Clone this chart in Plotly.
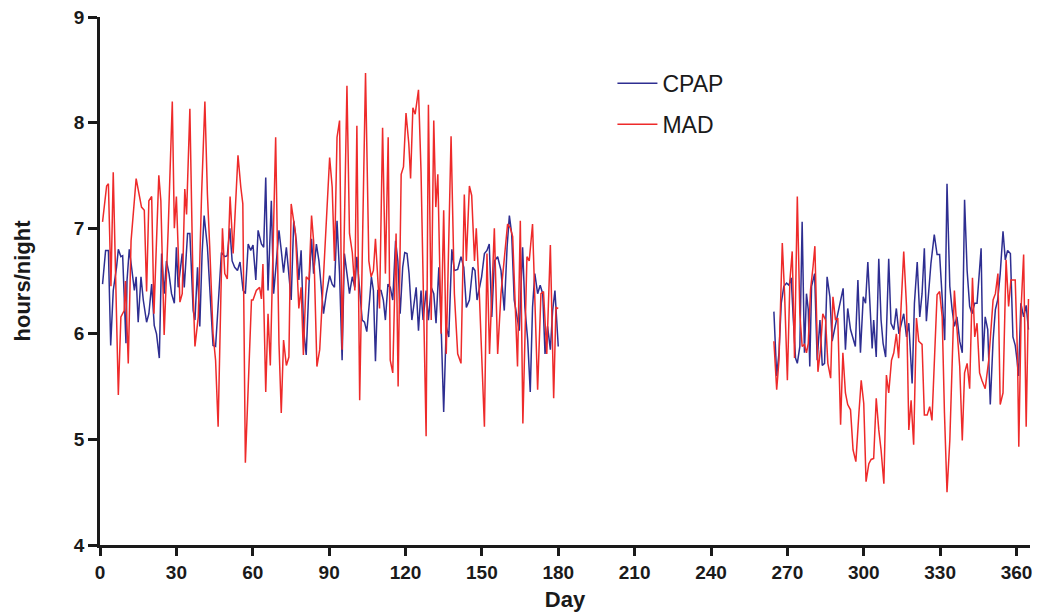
import plotly.graph_objects as go

# ---- data (day, hours/night) ----
cpap_days_1 = [1, 2.2, 3.3, 4.2, 5.2, 6.5, 7.2, 8.2, 8.9, 9.5, 10.2, 10.6, 11.5, 12.4, 13.5, 14.2, 15, 16.1, 17, 18.3,
               19.2, 20.3, 21.3, 22.2, 23.3, 24.2, 25.2, 26.1, 27.1, 28.1, 29.2, 30, 30.7, 32.3, 33.1, 34.4, 35.3, 36.6,
               37.3, 38.3, 39.2, 40.1, 40.9, 42.2, 43.1, 44.4, 45.4, 46.4, 47.7, 49, 50, 51, 51.9, 52.9, 54, 55, 56.2,
               57.1, 58.2, 59.2, 60.1, 61.2, 62.1, 63.4, 64.3, 65.1, 66, 67.3, 68.2, 69.3, 70.3, 71.2, 72.1, 73.2, 74.2,
               75.1, 76.1, 77.1, 78.1, 79, 80, 81, 82.1, 83.1, 83.9, 85, 86, 86.9, 87.8, 88.9, 90.2, 91.2, 92.1, 93.1,
               94.1, 95.1, 96, 97, 98, 99.1, 100.1, 100.9, 102, 103, 103.9, 104.8, 105.9, 106.6, 107.4, 108.2, 109.1,
               110.4, 111.3, 112.1, 113.1, 114, 115, 116.1, 117, 117.9, 118.9, 119.7, 120.6, 121.4, 122.5, 123.4, 124.2,
               125.1, 126.1, 126.9, 128.1, 129, 130.1, 131.1, 132, 133.1, 134, 135, 136, 137, 138.2, 139.2, 140.5, 141.8,
               142.9, 143.9, 145.1, 146.4, 147.3, 148.1, 149, 149.9, 151, 152, 152.9, 153.9, 154.9, 156.2, 157.5, 158.8,
               159.9, 160.8, 161.7, 162.7, 163.8, 164.7, 166, 166.9, 168, 169, 169.9, 170.8, 171.9, 172.9, 173.9, 174.8,
               175.8, 176.9, 177.8, 178.7, 180]
cpap_hours_1 = [6.47, 6.79, 6.79, 5.89, 6.41, 6.63, 6.8, 6.73, 6.74, 6.29, 5.91, 6.5, 6.8, 6.63, 6.41, 6.54, 6.11, 6.54,
                6.32, 6.11, 6.19, 6.47, 6.08, 6.0, 5.77, 6.76, 6.38, 6.69, 6.57, 6.38, 6.29, 6.82, 6.44, 6.76, 6.44, 6.95,
                6.95, 6.22, 6.13, 6.63, 6.07, 6.76, 7.12, 6.82, 6.44, 5.89, 5.88, 6.25, 6.77, 6.73, 6.74, 7.0, 6.69, 6.63,
                6.6, 6.68, 6.41, 6.38, 6.85, 6.79, 6.84, 6.51, 6.98, 6.85, 6.82, 7.48, 6.41, 7.26, 6.38, 6.69, 6.98, 6.79,
                6.58, 6.82, 6.54, 6.32, 7.07, 6.88, 6.51, 6.79, 6.03, 5.8, 6.47, 6.9, 6.57, 6.85, 6.69, 6.44, 6.19, 6.38,
                6.55, 6.47, 6.44, 7.07, 6.57, 5.75, 6.76, 6.57, 6.38, 6.54, 6.44, 6.73, 6.41, 6.13, 6.11, 6.02, 6.32,
                6.54, 6.41, 5.74, 6.41, 6.41, 6.32, 6.13, 6.47, 6.44, 6.32, 6.88, 6.69, 6.19, 6.63, 6.77, 6.76, 6.57,
                6.13, 6.3, 6.44, 6.03, 6.41, 6.13, 6.41, 6.13, 6.44, 6.38, 6.1, 6.63, 6.07, 5.26, 6.07, 5.97, 6.8, 6.6,
                6.61, 6.73, 6.63, 6.25, 6.32, 6.63, 6.6, 6.32, 6.44, 6.54, 6.76, 6.79, 6.85, 6.16, 6.69, 6.73, 6.6, 6.22,
                6.82, 7.12, 6.95, 6.32, 6.16, 6.03, 6.82, 6.25, 5.94, 5.45, 6.25, 6.57, 6.38, 6.46, 6.38, 5.81, 6.07,
                5.85, 6.22, 6.41, 5.88]

cpap_days_2 = [264.7, 265.8, 266.7, 267.6, 268.6, 269.7, 270.6, 271.5, 272.3, 273.2, 273.9, 274.9, 275.8, 276.7, 277.5,
               278.2, 278.8, 279.5, 280.7, 281.7, 282.8, 283.7, 284.6, 285.6, 286.7, 287.6, 288.5, 290.2, 291.9, 292.8,
               293.7, 294.8, 295.8, 296.7, 297.7, 298.7, 299.8, 300.7, 301.6, 302.4, 303.3, 303.9, 304.9, 305.9, 306.8,
               307.6, 308.6, 309.8, 310.7, 311.8, 312.8, 313.8, 314.7, 315.7, 316.8, 317.7, 319, 319.9, 321, 322, 322.9,
               323.8, 324.6, 325.5, 326.4, 327.7, 328.8, 329.8, 330.8, 331.8, 332.7, 333.8, 334.7, 335.6, 336.6, 337.7,
               338.7, 339.6, 340.6, 341.6, 342.5, 343.6, 344.5, 345.5, 346.1, 346.8, 347.7, 348.7, 349.7, 350.8, 351.7,
               352.6, 353.6, 354.7, 355.6, 356.5, 357.6, 358.6, 359.5, 360.2, 360.8, 361.7, 362.8, 363.8, 364.7]
cpap_hours_2 = [6.21, 5.6, 5.82, 6.29, 6.45, 6.48, 6.46, 6.53, 6.15, 5.77, 5.72, 5.88, 7.06, 5.82, 6.38, 6.23, 5.69, 6.45,
                6.57, 5.75, 6.13, 5.7, 5.72, 6.54, 6.35, 5.93, 6.04, 6.25, 6.43, 5.85, 6.24, 6.04, 5.96, 5.88, 6.51, 5.82,
                6.35, 6.29, 6.68, 6.29, 5.86, 6.13, 5.78, 6.71, 6.13, 5.91, 5.78, 6.71, 6.1, 6.04, 6.24, 6.0, 6.1, 6.19,
                5.97, 6.1, 5.53, 6.29, 6.68, 6.16, 6.38, 6.81, 6.12, 6.38, 6.67, 6.94, 6.75, 6.75, 6.38, 5.94, 7.42, 6.45,
                6.23, 6.07, 6.16, 5.93, 5.82, 7.27, 6.6, 6.26, 6.19, 6.29, 6.29, 6.59, 6.81, 5.74, 6.16, 6.04, 5.33, 5.94,
                6.23, 6.32, 6.57, 6.97, 6.7, 6.79, 6.76, 5.97, 5.89, 5.75, 5.6, 6.29, 6.16, 6.27, 6.04]

mad_days_1 = [1, 2.6, 3.3, 4.3, 5.2, 7.2, 8.2, 9.5, 10, 11.1, 12.2, 14.2, 16.3, 17.4, 18.3, 19.2, 20.3, 21.2, 23.1, 23.9,
              25.2, 26.8, 28.4, 29.2, 30, 31.4, 32.3, 33.3, 34, 35.3, 36.6, 37.3, 38.6, 39.9, 41.2, 42.2, 43.1, 44.4,
              45.4, 46.4, 47.5, 48.1, 49, 50, 51.1, 52.3, 53.2, 54.2, 55.3, 56.1, 57.1, 58.4, 59.5, 60.1, 61.4, 62.7,
              63.4, 64, 65.1, 66, 66.9, 69, 70.3, 71.2, 72.1, 73.2, 74.2, 75.1, 76.8, 78.1, 79, 79.9, 81, 82.1, 83.1,
              83.9, 85.2, 86.3, 87.8, 89, 90.2, 91.2, 92.1, 93.1, 94.1, 95.1, 97, 98, 99.1, 100.1, 100.9, 102, 103.3,
              104.3, 105.6, 106.5, 107.4, 108.2, 109.8, 111, 112.1, 113.2, 114, 115, 116.3, 117.1, 118.3, 119.2, 120.2,
              121.3, 122, 122.9, 123.8, 125.1, 126.1, 127.1, 128.1, 129, 130.1, 131.1, 131.9, 132.7, 134, 135, 136,
              137.9, 139.2, 140.5, 141.8, 143.1, 143.9, 145.1, 146, 147.1, 147.8, 149, 151, 152, 153, 154.9, 156.2,
              157.5, 160.1, 161.2, 162.1, 164, 165.1, 166.1, 167.7, 168.6, 169.9, 171.9, 173.2, 174.2, 175.5, 176.9,
              178.2, 179.1, 180]
mad_hours_1 = [7.06, 7.4, 7.42, 6.45, 7.53, 5.42, 6.16, 6.22, 6.5, 5.72, 6.88, 7.47, 7.2, 7.17, 6.4, 7.26, 7.3, 6.19, 7.5,
               7.26, 5.99, 7.0, 8.2, 7.0, 7.3, 6.3, 6.38, 7.37, 7.13, 8.13, 6.38, 5.88, 6.16, 7.32, 8.2, 7.32, 6.82, 6.0,
               5.75, 5.12, 6.38, 7.0, 6.57, 6.52, 7.3, 6.76, 7.2, 7.69, 7.39, 7.23, 4.78, 5.53, 6.32, 6.32, 6.41, 6.44,
               6.33, 6.66, 5.45, 6.19, 5.7, 7.86, 5.91, 5.25, 5.94, 5.7, 5.78, 7.23, 6.95, 6.24, 6.44, 5.8, 6.54, 6.51,
               7.12, 6.88, 5.69, 5.85, 6.6, 7.2, 7.67, 7.39, 6.69, 7.86, 8.02, 5.85, 8.35, 6.95, 6.77, 6.41, 7.97, 5.37,
               7.3, 8.47, 6.69, 6.54, 6.6, 6.9, 6.24, 7.95, 6.57, 7.86, 5.75, 5.63, 6.95, 5.5, 7.51, 7.58, 8.09, 7.8,
               7.47, 8.14, 8.08, 8.31, 7.54, 6.3, 5.03, 8.17, 6.13, 8.02, 7.2, 7.51, 6.0, 7.17, 5.81, 7.87, 6.38, 5.81,
               5.72, 7.32, 6.69, 7.4, 7.31, 6.69, 7.0, 6.38, 5.12, 6.76, 5.81, 7.0, 5.81, 6.38, 7.04, 7.0, 6.92, 5.69,
               7.07, 5.15, 6.73, 6.69, 7.04, 5.47, 6.38, 6.4, 5.81, 6.84, 5.39, 6.25, 6.24]

mad_days_2 = [264.7, 265.8, 266.7, 268, 268.9, 270, 271, 271.9, 272.8, 273.9, 274.9, 275.8, 276.7, 277.5, 278.2, 279.1,
              280.1, 280.8, 282, 283, 283.9, 285, 285.9, 287, 287.9, 288.9, 289.8, 290.9, 291.8, 292.8, 293.7, 294.8,
              295.8, 296.9, 298.1, 299, 300, 300.9, 302, 302.9, 303.9, 304.9, 305.9, 306.8, 307.9, 308.9, 309.8, 310.9,
              311.8, 312.8, 313.7, 314.7, 315.7, 316.8, 317.7, 318.6, 319.6, 320.7, 321.6, 322.9, 323.8, 324.9, 325.9,
              326.8, 327.7, 328.8, 329.8, 330.8, 331.7, 332.7, 333.8, 334.7, 335.6, 336.6, 337.7, 338.7, 339.6, 340.6,
              341.6, 342.7, 343.6, 344.5, 345.5, 346.4, 347.7, 349.1, 350.8, 351.7, 352.7, 353.6, 354.7, 355.9, 356.9,
              357.8, 359.5, 360.4, 360.9, 361.9, 362.8, 363.8, 364.7]
mad_hours_2 = [5.93, 5.47, 5.75, 6.86, 6.38, 5.56, 6.51, 6.78, 5.77, 7.3, 6.19, 5.88, 5.9, 5.82, 5.91, 6.42, 6.64, 6.83,
               5.64, 5.85, 6.19, 6.13, 5.72, 5.58, 6.35, 6.13, 6.15, 5.14, 5.82, 5.44, 5.33, 5.28, 4.9, 4.79, 5.25, 5.56,
               5.34, 4.6, 4.77, 4.81, 4.82, 5.39, 5.09, 4.9, 4.58, 5.61, 5.44, 5.75, 5.82, 6.0, 5.77, 6.35, 6.78, 6.26,
               5.09, 5.37, 4.95, 6.15, 5.93, 5.9, 5.23, 5.23, 5.31, 5.18, 5.69, 6.37, 6.4, 6.16, 5.25, 4.5, 4.99, 5.75,
               6.41, 6.05, 5.69, 4.99, 5.63, 5.72, 5.48, 6.53, 5.97, 6.1, 5.63, 5.56, 5.48, 5.75, 6.32, 6.38, 6.57, 5.33,
               5.44, 6.7, 6.26, 6.51, 6.51, 5.78, 4.93, 6.29, 6.75, 5.12, 6.33]

x_ticks = [0, 30, 60, 90, 120, 150, 180, 210, 240, 270, 300, 330, 360]
y_ticks = [4, 5, 6, 7, 8, 9]

CPAP_COLOR = "#2e2e91"
MAD_COLOR = "#ee2a2a"

fig = go.Figure()
fig.add_trace(go.Scatter(
    x=cpap_days_1 + [None] + cpap_days_2,
    y=cpap_hours_1 + [None] + cpap_hours_2,
    mode="lines", name="CPAP", legendgroup="a",
    line=dict(color=CPAP_COLOR, width=1.5), connectgaps=False))
fig.add_trace(go.Scatter(
    x=mad_days_1 + [None] + mad_days_2,
    y=mad_hours_1 + [None] + mad_hours_2,
    mode="lines", name="MAD", legendgroup="b",
    line=dict(color=MAD_COLOR, width=1.5), connectgaps=False))

axis_font = dict(family="Liberation Sans, Arial, sans-serif", size=19, color="#1a1a1a", weight="bold")
title_font = dict(family="Liberation Sans, Arial, sans-serif", size=22, color="#1a1a1a", weight="bold")

fig.update_layout(
    width=1037, height=615,
    margin=dict(l=100, r=5, t=17, b=70),
    paper_bgcolor="white", plot_bgcolor="white",
    showlegend=True,
    legend=dict(x=0.551, y=0.915, xanchor="left", yanchor="top",
                font=dict(family="Liberation Sans, Arial, sans-serif", size=23, color="#1a1a1a"),
                tracegroupgap=8, bgcolor="rgba(0,0,0,0)", itemwidth=40),
    xaxis=dict(range=[0, 365.3], tickmode="array", tickvals=x_ticks, ticktext=[str(v) for v in x_ticks],
               showgrid=False, zeroline=False, showline=True, linecolor="#1a1a1a", linewidth=2.5,
               ticks="outside", ticklen=8, tickwidth=2.5, tickcolor="#1a1a1a", tickfont=axis_font,
               title=dict(text="Day", font=title_font, standoff=11)),
    yaxis=dict(range=[4, 9], tickmode="array", tickvals=y_ticks, ticktext=[str(v) for v in y_ticks],
               showgrid=False, zeroline=False, showline=True, linecolor="#1a1a1a", linewidth=2.5,
               ticks="outside", ticklen=9, tickwidth=2.5, tickcolor="#1a1a1a", tickfont=axis_font,
               title=dict(text="hours/night", font=title_font, standoff=38)),
)

fig.write_html("out.html", config={"displayModeBar": False},
               post_script="document.body.style.margin='0';document.body.style.overflow='hidden';")
